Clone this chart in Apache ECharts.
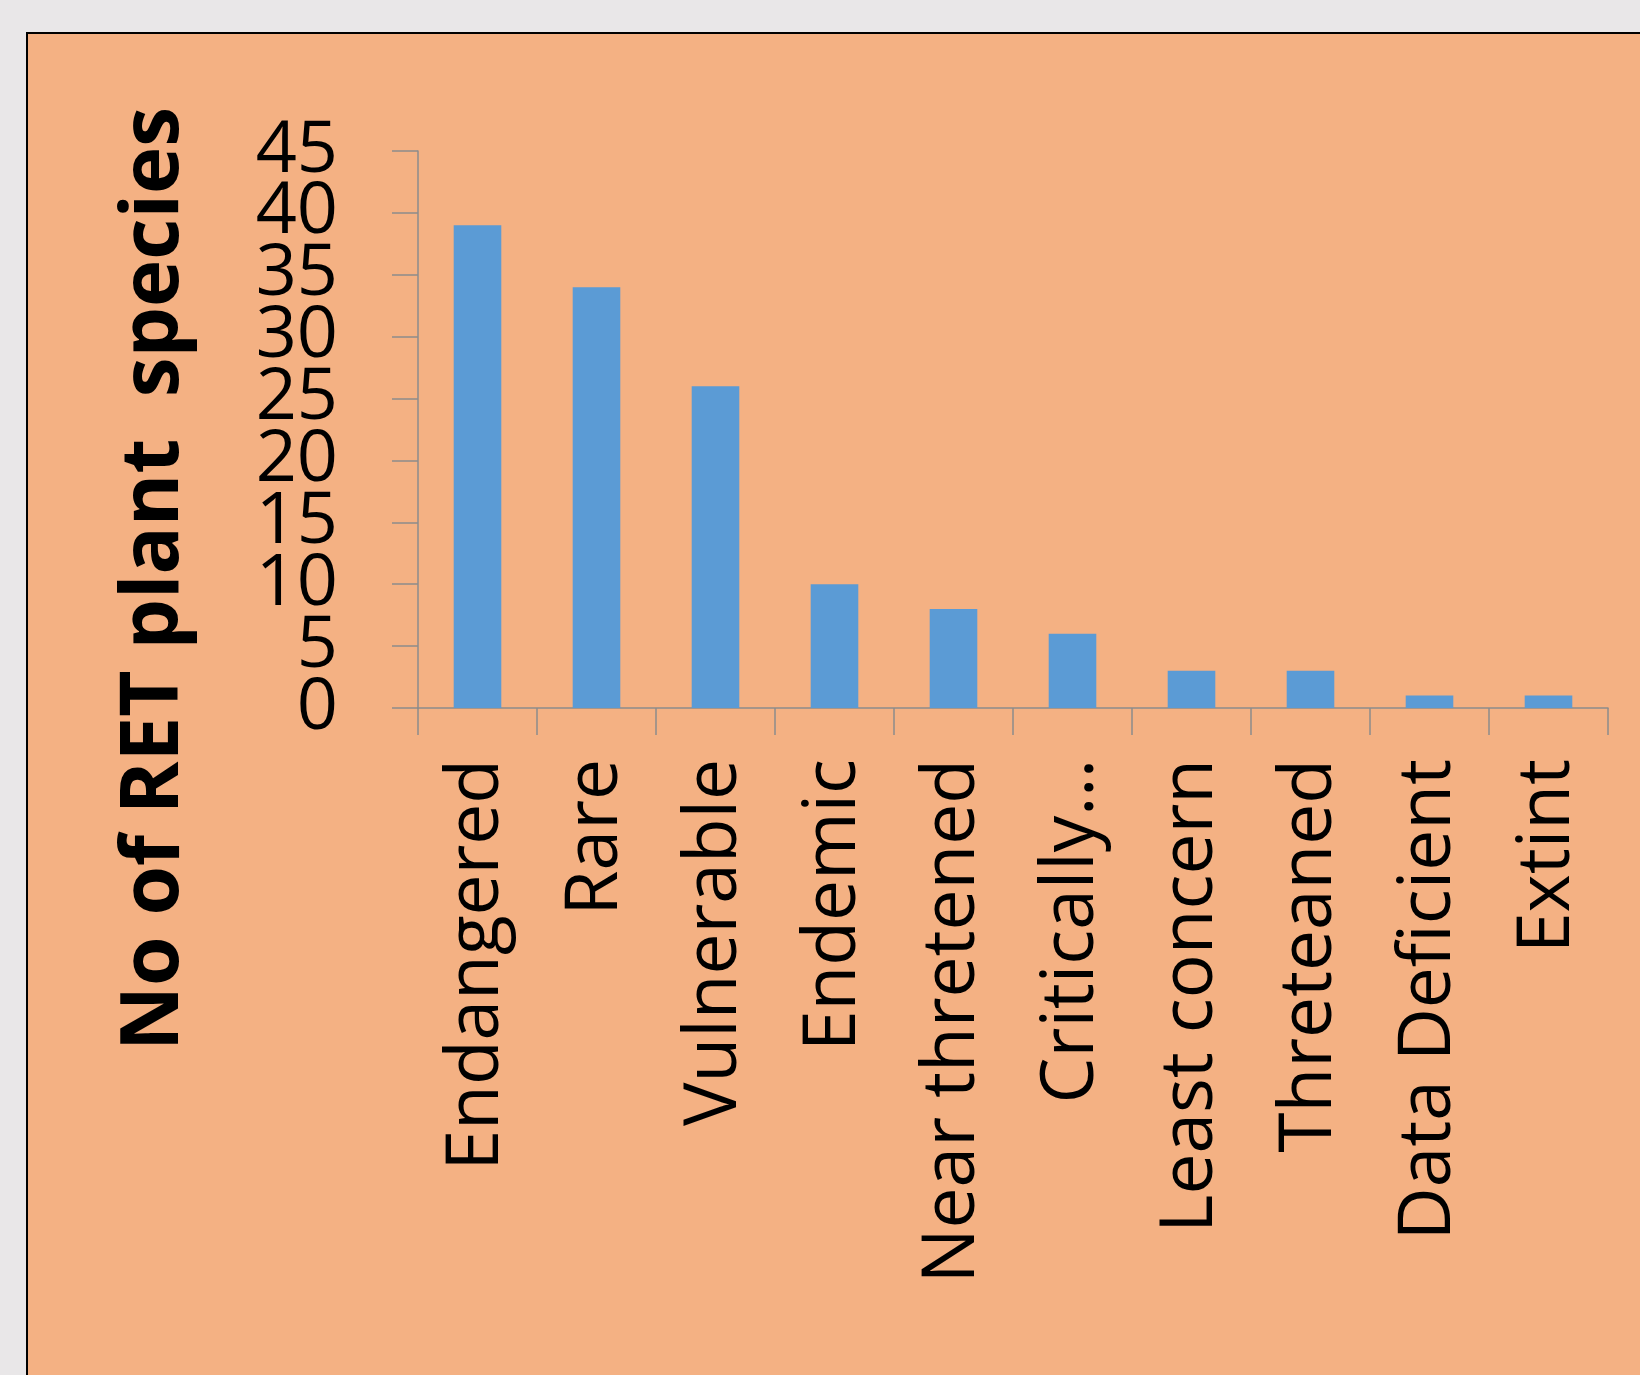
<!DOCTYPE html>
<html>
<head>
<meta charset="utf-8">
<script src="https://cdn.jsdelivr.net/npm/echarts@6/dist/echarts.min.js"></script>
<style>
html,body{margin:0;padding:0;width:1640px;height:1375px;overflow:hidden;background:#e9e7e8;}
#frame{position:absolute;left:26px;top:32px;width:1640px;height:1375px;border:2px solid #000;background:#f4b183;}
#chart{width:1640px;height:1375px;}
</style>
</head>
<body>
<div id="frame"><div id="chart"></div></div>
<script>
const categories = ["Endangered","Rare","Vulnerable","Endemic","Near thretened","Critically…","Least concern","Threteaned","Data Deficient","Extint"];
const speciesCounts = [39,34,26,10,8,6,3,3,1,1];
const yTitle = "No of RET plant  species";
const yMin = 0, yMax = 45, yStep = 5;

const chart = echarts.init(document.getElementById('chart'), null, {renderer:'canvas'});
const axisGray = '#8c8c8c';
const font = '"Open Sans", "Noto Sans", sans-serif';
const labelBase = {margin: 80, color: '#000', fontSize: 72, fontFamily: font};
chart.setOption({
  backgroundColor: 'transparent',
  animation: false,
  grid: {left: 390, top: 117, right: 60, bottom: 701, containLabel: false},
  graphic: [{
    type: 'text',
    x: 127, y: 545,
    rotation: Math.PI / 2,
    style: {text: yTitle, font: 'bold 80px "Open Sans", "Noto Sans", sans-serif', fill: '#000', textAlign: 'center', textVerticalAlign: 'middle'}
  }],
  xAxis: {
    type: 'category',
    data: categories,
    boundaryGap: true,
    axisLine: {show: true, lineStyle: {color: axisGray, width: 1.5}},
    axisTick: {show: true, length: 27, alignWithLabel: false, lineStyle: {color: axisGray, width: 1.5}},
    axisLabel: {rotate: 90, margin: 51, interval: 0, color: '#000', fontSize: 73, fontFamily: font}
  },
  yAxis: [{
    type: 'value',
    min: yMin, max: yMax, interval: yStep,
    splitLine: {show: false},
    axisLine: {show: true, lineStyle: {color: axisGray, width: 1.5}},
    axisTick: {show: true, length: 26, lineStyle: {color: axisGray, width: 1.5}},
    axisLabel: Object.assign({showMinLabel: false, showMaxLabel: false}, labelBase)
  }, {
    type: 'value',
    position: 'left',
    min: yMin, max: yMax, interval: yStep,
    splitLine: {show: false},
    axisLine: {show: false},
    axisTick: {show: true, length: 26, lineStyle: {color: axisGray, width: 1.5}},
    axisLabel: Object.assign({showMinLabel: true, showMaxLabel: true,
      formatter: function (v) { return (v === yMin || v === yMax) ? String(v) : ''; }}, labelBase)
  }],
  series: [{
    type: 'bar',
    yAxisIndex: 0,
    data: speciesCounts,
    barWidth: '40%',
    itemStyle: {color: '#5b9bd5'}
  }]
});
</script>
</body>
</html>
